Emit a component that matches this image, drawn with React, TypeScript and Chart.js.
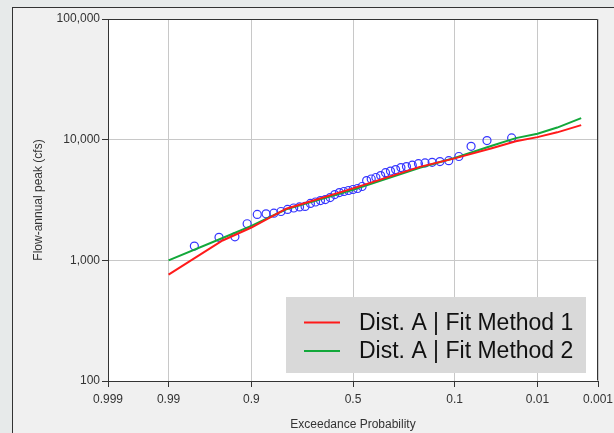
import React, { useEffect, useRef } from 'react';
import { Chart, registerables } from 'chart.js';

Chart.register(...registerables);

// Axis tick probabilities and labels (exceedance probability, normal-probability scale)
const AXIS_PROBS = [0.999, 0.99, 0.9, 0.5, 0.1, 0.01, 0.001];
const AXIS_LABELS = ['0.999', '0.99', '0.9', '0.5', '0.1', '0.01', '0.001'];
const Y_TICKS = [100, 1000, 10000, 100000];

// Frequency-curve ordinates
const CURVE_PROBS = [0.99, 0.95, 0.9, 0.8, 0.5, 0.2, 0.1, 0.04, 0.02, 0.01, 0.005, 0.002];
const FIT_METHOD_1 = [760, 1460, 1870, 2680, 3950, 5950, 7000, 8500, 9700, 10500, 11500, 13200];
const FIT_METHOD_2 = [1000, 1530, 1930, 2650, 3850, 5850, 7050, 8900, 10300, 11200, 12600, 15100];

// Observed annual peaks with their plotting positions
const OBS_PROBS = [
  0.0227, 0.0455, 0.0682, 0.0909, 0.1136, 0.1364, 0.1591, 0.1818, 0.2045, 0.2273,
  0.25, 0.2727, 0.2955, 0.3182, 0.3409, 0.3636, 0.3864, 0.4091, 0.4318, 0.4545,
  0.4773, 0.5, 0.5227, 0.5455, 0.5682, 0.5909, 0.6136, 0.6364, 0.6591, 0.6818,
  0.7045, 0.7273, 0.75, 0.7727, 0.7955, 0.8182, 0.8409, 0.8636, 0.8864, 0.9091,
  0.9318, 0.9545, 0.9773,
];
const OBS_FLOWS = [
  10330, 9820, 8810, 7250, 6700, 6580, 6490, 6410, 6330, 6150,
  5980, 5870, 5650, 5490, 5330, 5040, 4860, 4720, 4580, 4090,
  3940, 3865, 3790, 3720, 3645, 3510, 3315, 3190, 3130, 3045,
  2960, 2795, 2770, 2715, 2640, 2540, 2460, 2430, 2400, 2010,
  1565, 1550, 1312,
];

const SERIES_LABELS = ['Dist. A | Fit Method 1', 'Dist. A | Fit Method 2'];
const SERIES_COLORS = ['#ff1a1a', '#12a83a'];
const POINT_COLOR = '#3535ff';

// inverse standard normal CDF (Acklam)
function normInv(p: number): number {
  const a = [-3.969683028665376e1, 2.209460984245205e2, -2.759285104469687e2, 1.38357751867269e2, -3.066479806614716e1, 2.506628277459239];
  const b = [-5.447609879822406e1, 1.615858368580409e2, -1.556989798598866e2, 6.680131188771972e1, -1.328068155288572e1];
  const c = [-7.784894002430293e-3, -3.223964580411365e-1, -2.400758277161838, -2.549732539343734, 4.374664141464968, 2.938163982698783];
  const d = [7.784695709041462e-3, 3.224671290700398e-1, 2.445134137142996, 3.754408661907416];
  const pl = 0.02425;
  if (p < pl) {
    const q = Math.sqrt(-2 * Math.log(p));
    return (((((c[0] * q + c[1]) * q + c[2]) * q + c[3]) * q + c[4]) * q + c[5]) / ((((d[0] * q + d[1]) * q + d[2]) * q + d[3]) * q + 1);
  }
  if (p <= 1 - pl) {
    const q = p - 0.5;
    const r = q * q;
    return ((((((a[0] * r + a[1]) * r + a[2]) * r + a[3]) * r + a[4]) * r + a[5]) * q) / (((((b[0] * r + b[1]) * r + b[2]) * r + b[3]) * r + b[4]) * r + 1);
  }
  const q = Math.sqrt(-2 * Math.log(1 - p));
  return -(((((c[0] * q + c[1]) * q + c[2]) * q + c[3]) * q + c[4]) * q + c[5]) / ((((d[0] * q + d[1]) * q + d[2]) * q + d[3]) * q + 1);
}
const probToX = (p: number) => normInv(1 - p);

const FONT = "'Liberation Sans', Arial, sans-serif";

const plotFrame = {
  id: 'plotFrame',
  beforeDraw(chart: any) {
    const { ctx, chartArea } = chart;
    ctx.save();
    ctx.fillStyle = '#ffffff';
    ctx.fillRect(chartArea.left, chartArea.top, chartArea.right - chartArea.left, chartArea.bottom - chartArea.top);
    ctx.restore();
  },
  afterDraw(chart: any) {
    const { ctx, chartArea } = chart;
    const l = Math.round(chartArea.left) + 0.5;
    const t = Math.round(chartArea.top) + 0.5;
    const r = Math.round(chartArea.right) - 0.5;
    const b = Math.round(chartArea.bottom) - 0.5;
    ctx.save();
    ctx.strokeStyle = '#333333';
    ctx.lineWidth = 1;
    ctx.beginPath();
    ctx.moveTo(l, t);
    ctx.lineTo(r, t);
    ctx.lineTo(r, b);
    ctx.stroke();
    // legend box
    const w = 300;
    const h = 76;
    const bx = Math.round(chartArea.right) - 12 - w;
    const by = Math.round(chartArea.bottom) - 8 - h;
    ctx.fillStyle = '#d9d9d9';
    ctx.fillRect(bx, by, w, h);
    const rows = [by + 25.5, by + 54];
    SERIES_LABELS.forEach((lab, i) => {
      const y = rows[i];
      ctx.strokeStyle = SERIES_COLORS[i];
      ctx.lineWidth = 2;
      ctx.beginPath();
      ctx.moveTo(bx + 18, y);
      ctx.lineTo(bx + 54, y);
      ctx.stroke();
      ctx.fillStyle = '#111111';
      ctx.font = `23px ${FONT}`;
      ctx.textBaseline = 'middle';
      ctx.textAlign = 'left';
      ctx.fillText(lab, bx + 73, y + 1);
    });
    ctx.restore();
  },
};

export default function App() {
  const ref = useRef<HTMLCanvasElement | null>(null);

  useEffect(() => {
    if (!ref.current) return;
    const chart = new Chart(ref.current, {
      type: 'line',
      data: {
        datasets: [
          {
            label: SERIES_LABELS[0],
            data: CURVE_PROBS.map((p, i) => ({ x: probToX(p), y: FIT_METHOD_1[i] })),
            borderColor: SERIES_COLORS[0],
            backgroundColor: SERIES_COLORS[0],
            borderWidth: 2,
            pointRadius: 0,
            tension: 0,
          },
          {
            label: SERIES_LABELS[1],
            data: CURVE_PROBS.map((p, i) => ({ x: probToX(p), y: FIT_METHOD_2[i] })),
            borderColor: SERIES_COLORS[1],
            backgroundColor: SERIES_COLORS[1],
            borderWidth: 2,
            pointRadius: 0,
            tension: 0,
          },
          {
            label: 'Observed',
            data: OBS_PROBS.map((p, i) => ({ x: probToX(p), y: OBS_FLOWS[i] })),
            showLine: false,
            borderColor: POINT_COLOR,
            backgroundColor: 'rgba(0,0,0,0)',
            pointBorderColor: POINT_COLOR,
            pointBackgroundColor: 'rgba(0,0,0,0)',
            pointBorderWidth: 1.2,
            pointRadius: 4,
          },
        ],
      },
      options: {
        animation: false,
        responsive: false,
        devicePixelRatio: 1,
        events: [],
        layout: { padding: { top: 19, right: 16, left: 0, bottom: 0 } },
        plugins: { legend: { display: false }, tooltip: { enabled: false } },
        scales: {
          x: {
            type: 'linear',
            min: probToX(AXIS_PROBS[0]),
            max: probToX(AXIS_PROBS[AXIS_PROBS.length - 1]),
            afterBuildTicks: (s: any) => {
              s.ticks = AXIS_PROBS.map((p) => ({ value: probToX(p) }));
            },
            afterFit: (s: any) => {
              s.height = 52;
              s.paddingLeft = 0;
              s.paddingRight = 0;
            },
            grid: { color: '#c8c8c8', tickColor: '#333333', tickLength: 6, drawTicks: true },
            border: { display: true, color: '#333333', width: 1 },
            ticks: {
              autoSkip: false,
              maxRotation: 0,
              padding: 5,
              color: '#333333',
              font: { family: FONT, size: 12 },
              callback: (_v: any, i: number) => AXIS_LABELS[i],
            },
            title: {
              display: true,
              text: 'Exceedance Probability',
              color: '#333333',
              font: { family: FONT, size: 12 },
              padding: { top: 0, bottom: 1 },
            },
          },
          y: {
            type: 'logarithmic',
            min: 100,
            max: 100000,
            afterBuildTicks: (s: any) => {
              s.ticks = Y_TICKS.map((v) => ({ value: v, major: true }));
            },
            afterFit: (s: any) => {
              s.width = 108;
              s.paddingTop = 0;
              s.paddingBottom = 0;
            },
            grid: { color: '#c8c8c8', tickColor: '#333333', tickLength: 6, drawTicks: true },
            border: { display: true, color: '#333333', width: 1 },
            ticks: {
              autoSkip: false,
              padding: 2,
              color: '#333333',
              font: { family: FONT, size: 12 },
              callback: (v: any) => Number(v).toLocaleString('en-US'),
            },
            title: {
              display: true,
              text: 'Flow-annual peak (cfs)',
              color: '#333333',
              font: { family: FONT, size: 12 },
              padding: { top: 31, bottom: 0 },
            },
          },
        },
      },
      plugins: [plotFrame],
    } as any);
    return () => chart.destroy();
  }, []);

  return (
    <div style={{ position: 'fixed', left: 0, top: 0, width: 614, height: 433, background: '#e7eaea', overflow: 'hidden' }}>
      <div
        style={{
          position: 'absolute',
          left: 12,
          top: 7,
          width: 620,
          height: 440,
          background: '#f0f0f0',
          borderLeft: '1px solid #333',
          borderTop: '1px solid #333',
        }}
      />
      <canvas ref={ref} width={614} height={433} style={{ position: 'absolute', left: 0, top: 0, display: 'block' }} />
    </div>
  );
}
